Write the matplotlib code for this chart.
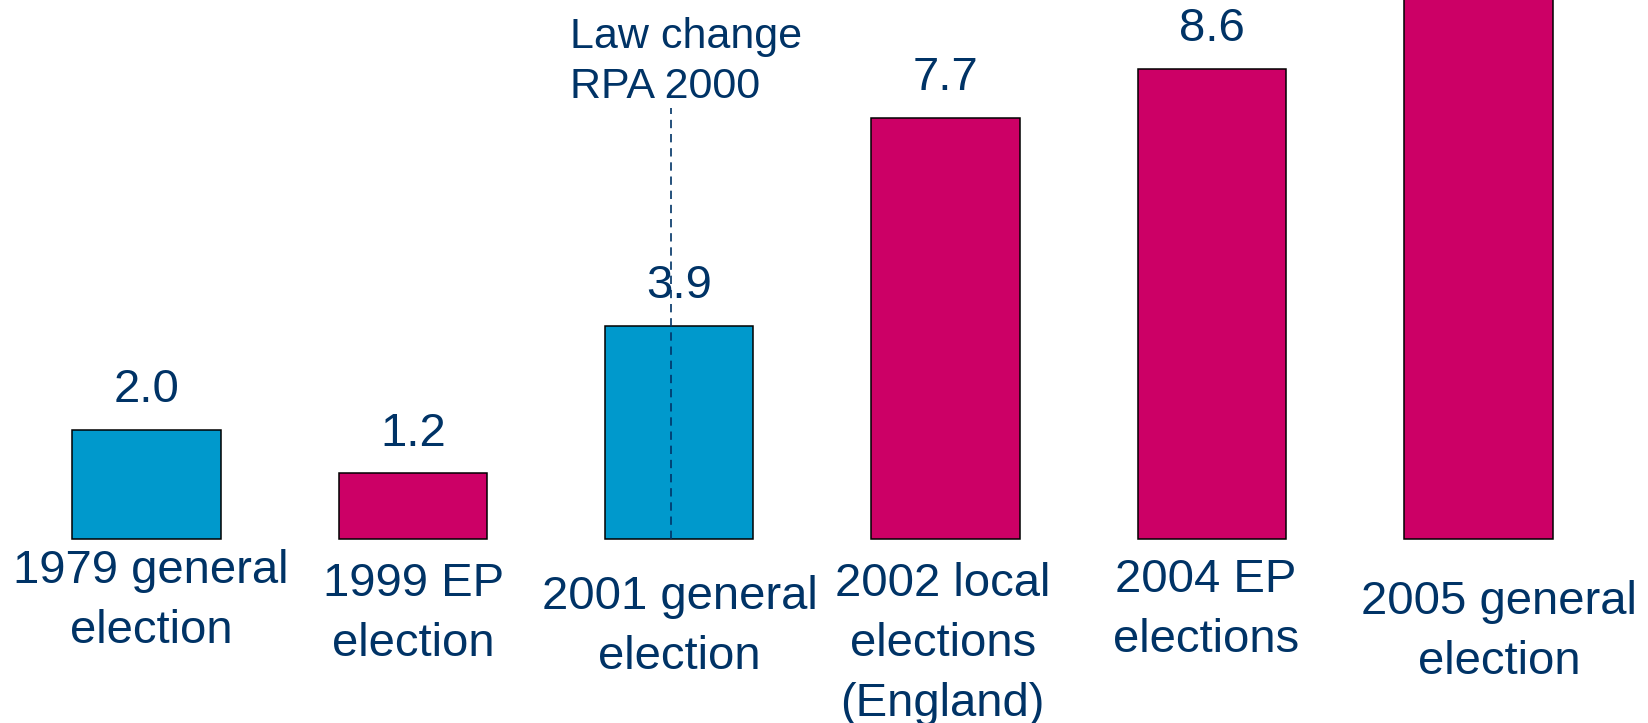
import matplotlib
matplotlib.use("Agg")
import matplotlib.pyplot as plt

# ---- data ----
categories = ["1979 general\nelection", "1999 EP\nelection", "2001 general\nelection",
              "2002 local\nelections\n(England)", "2004 EP\nelections", "2005 general\nelection"]
values = [2.0, 1.2, 3.9, 7.7, 8.6, 12.1]
# the label of the last bar lies above the visible area in the reference
value_labels = ["2.0", "1.2", "3.9", "7.7", "8.6", ""]
bar_colors = ["#0099CC", "#CC0066", "#0099CC", "#CC0066", "#CC0066", "#CC0066"]
law_change_text = "Law change\nRPA 2000"
law_change_pos = 1.971   # x position (between categories) of the law change marker
law_change_top = 7.88

# ---- style / layout ----
TEXT = "#003366"
FONT = "Liberation Sans"
FS = 34
FS_NOTE = 31
# per-label offsets (points) for category labels: (dx, drop of text top below baseline)
label_offsets = [(3.5, 7.4), (0.3, 16.3), (0.4, 25.9), (-2.1, 16.3), (-4.3, 13.9), (15, 29.5)]

fig = plt.figure(figsize=(16.48, 7.23), dpi=100)
ax = fig.add_axes([0, 0, 1, 1])
ax.set_xlim(-0.5495, 5.6366)
ax.set_ylim(-3.364, 9.854)
ax.axis("off")

x = list(range(len(categories)))
ax.bar(x, values, width=0.557, color=bar_colors, edgecolor="black", linewidth=1.1, zorder=2)

for xi, v, lab in zip(x, values, value_labels):
    if lab:
        ax.annotate(lab, (xi, v), xytext=(0, 19.7), textcoords="offset points",
                    ha="center", va="baseline", fontsize=FS, color=TEXT, family=FONT,
                    annotation_clip=False)

for xi, cat, (dx, dy) in zip(x, categories, label_offsets):
    ax.annotate(cat, (xi, 0), xytext=(dx, -dy), textcoords="offset points",
                ha="center", va="top", fontsize=FS, color=TEXT, family=FONT,
                linespacing=1.47, multialignment="center", annotation_clip=False)

ax.plot([law_change_pos, law_change_pos], [0, law_change_top], color=TEXT,
        linewidth=1.2, linestyle=(0, (5, 3.5)), zorder=3)
ax.text(1.590, 9.55, law_change_text, ha="left", va="top", fontsize=FS_NOTE,
        color=TEXT, family=FONT, linespacing=1.35)

fig.savefig("out.png", dpi=100)
